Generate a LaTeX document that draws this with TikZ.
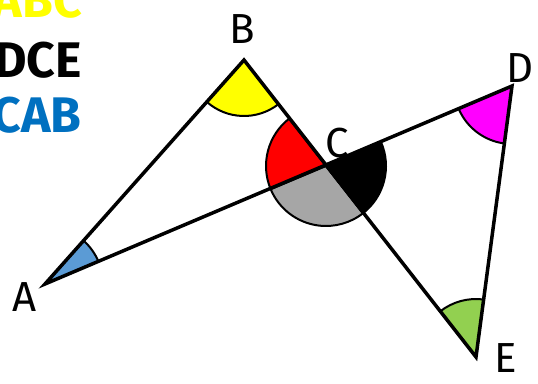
\documentclass[tikz,border=0pt]{standalone}
\usepackage{fontspec}
\setmainfont{Fira Sans}
\usetikzlibrary{calc}
\definecolor{angyellow}{HTML}{FFFF00}
\definecolor{angred}{HTML}{FF0000}
\definecolor{anggray}{HTML}{A6A6A6}
\definecolor{angmag}{HTML}{FF00FF}
\definecolor{angblue}{HTML}{5B9BD5}
\definecolor{anggreen}{HTML}{92D050}
\definecolor{txtblue}{HTML}{0070C0}
\newcommand\angsector[5]{%
  \draw[sectorline, fill=#5] let \p1=($(#2)-(#1)$), \p2=($(#3)-(#1)$),
    \n1={atan2(\y1,\x1)}, \n2={atan2(\y2,\x2)}, \n3={mod(\n2-\n1+720,360)} in
    (#1) -- ++(\n1:#4) arc[start angle=\n1, delta angle=\n3, radius=#4] -- cycle;}
\tikzset{
  sectorline/.style={draw=black, line width=2pt, line join=round},
  edge/.style={draw=black, line width=3.5pt, line join=miter},
  vlabel/.style={font=\fontsize{42}{42}\selectfont, inner sep=0pt},
  title/.style={font=\fontsize{50}{50}\selectfont\bfseries, inner sep=0pt, anchor=base east}
}
\begin{document}
\begin{tikzpicture}[x=1pt,y=1pt]
\useasboundingbox (0,0) rectangle (538,383);
\coordinate (A) at (45,99);
\coordinate (B) at (244,323);
\coordinate (C) at (326,217);
\coordinate (D) at (512,297);
\coordinate (E) at (476,26);
% angle sectors
\angsector{B}{A}{E}{56pt}{angyellow}
\angsector{C}{B}{A}{60pt}{angred}
\angsector{C}{A}{E}{60pt}{anggray}
\angsector{C}{E}{D}{60pt}{black}
\angsector{D}{A}{E}{58pt}{angmag}
\angsector{A}{D}{B}{58pt}{angblue}
\angsector{E}{D}{B}{58pt}{anggreen}
% edges
\draw[edge] (A) -- (B) -- (E) -- (D) -- cycle;
% vertex labels
\node[vlabel] (lA) at (25,86) {A};
\node[vlabel] (lB) at (242,354) {B};
\node[vlabel] (lC) at (337,240) {C};
\node[vlabel] (lD) at (520,315) {D};
\node[vlabel] (lE) at (506,25) {E};
% titles
\node[title, text=angyellow] (t1) at (82,365) {ABC};
\node[title, text=black] (t2) at (82,305) {DCE};
\node[title, text=txtblue] (t3) at (82,250) {CAB};
\end{tikzpicture}
\end{document}
